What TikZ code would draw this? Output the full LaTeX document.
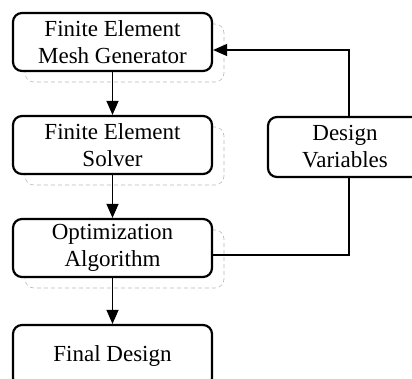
\documentclass[tikz,border=0pt]{standalone}
\usepackage{fontspec}
\setmainfont{Liberation Serif}
\usetikzlibrary{arrows.meta,shadows}

\begin{document}
\begin{tikzpicture}[x=1pt,y=1pt,>={Triangle[length=14pt,width=12pt]},
    block/.style={draw, line width=2.2pt, rounded corners=9pt, fill=white,
        minimum width=199pt, minimum height=58pt, align=center,
        font=\fontsize{23}{27}\selectfont},
    shadowed/.style={copy shadow={shadow xshift=12pt, shadow yshift=-11pt,
        draw=gray!55, fill=none, line width=0.6pt, dash pattern=on 4pt off 3pt}},
    link/.style={line width=1.3pt}]
        \useasboundingbox (0,0) rectangle (412,-379);

        \coordinate (MeshPos) at (112.5,-42);
        \coordinate (SolverPos) at (112.5,-145);
        \coordinate (OptimPos) at (112.5,-248);
        \coordinate (FinalPos) at (112.5,-356);
        \coordinate (VarsPos) at (345,-147);

        % Main chain
        \node[block, shadowed] (Mesh) at (MeshPos) {Finite Element\\Mesh Generator};
        \node[block, shadowed] (Solver) at (SolverPos) {Finite Element\\Solver};
        \node[block, shadowed] (Optim) at (OptimPos) {Optimization\\Algorithm};
        \node[block, minimum height=62pt] (Final) at (FinalPos) {Final Design};

        % Design variables
        \node[block, minimum width=154pt, minimum height=60pt] (Vars) at (VarsPos) {Design\\Variables};

        \draw[link, ->] (Mesh) -- (Solver);
        \draw[link, ->] (Solver) -- (Optim);
        \draw[link, ->] (Optim) -- (Final);

        % Feedback loop
        \draw[link] ([yshift=-7pt]Optim.east) -| ([xshift=4pt]Vars.south);
        \draw[link, ->] ([xshift=4pt]Vars.north) |- ([yshift=-8pt]Mesh.east);
    \end{tikzpicture}
\end{document}
